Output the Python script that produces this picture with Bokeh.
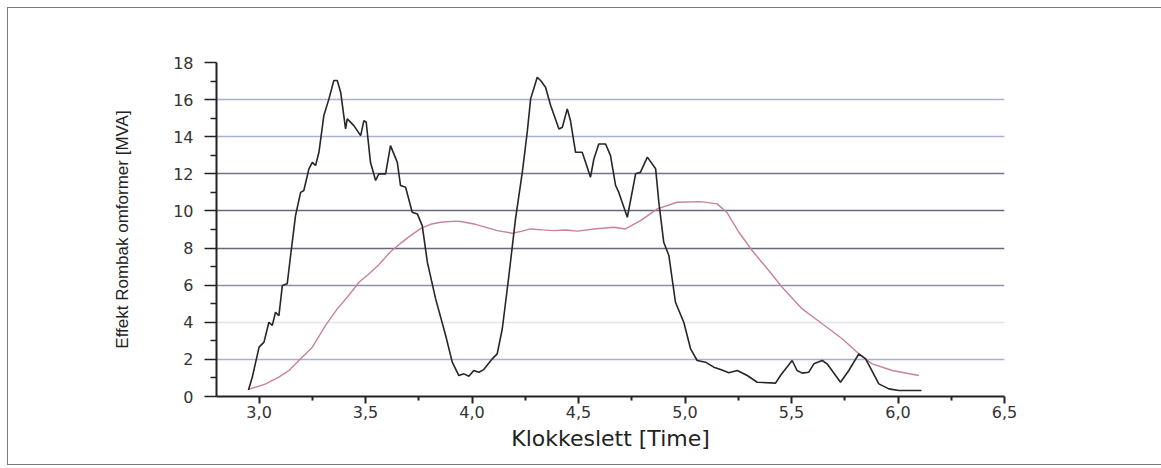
from bokeh.plotting import figure
from bokeh.models import Range1d, FixedTicker, Grid, ColumnDataSource, InlineStyleSheet
from bokeh.embed import file_html
from bokeh.resources import INLINE

# ---- data ----
black_x = [2.95, 2.968, 2.984, 3.0, 3.023, 3.046, 3.062, 3.077, 3.093, 3.109, 3.132, 3.148,
           3.171, 3.195, 3.21, 3.234, 3.25, 3.265, 3.281, 3.304, 3.328, 3.351, 3.367, 3.383,
           3.406, 3.414, 3.445, 3.477, 3.492, 3.503, 3.523, 3.547, 3.562, 3.594, 3.617, 3.649,
           3.664, 3.688, 3.719, 3.743, 3.766, 3.79, 3.829, 3.876, 3.907, 3.938, 3.962, 3.985,
           4.008, 4.032, 4.055, 4.095, 4.118, 4.142, 4.173, 4.204, 4.236, 4.259, 4.275, 4.306,
           4.322, 4.345, 4.369, 4.408, 4.424, 4.447, 4.462, 4.486, 4.517, 4.533, 4.556, 4.572,
           4.595, 4.627, 4.65, 4.674, 4.689, 4.729, 4.768, 4.791, 4.823, 4.862, 4.877, 4.9,
           4.924, 4.955, 4.994, 5.026, 5.057, 5.096, 5.135, 5.167, 5.206, 5.245, 5.292, 5.339,
           5.425, 5.448, 5.503, 5.526, 5.55, 5.581, 5.605, 5.644, 5.667, 5.73, 5.769, 5.816,
           5.848, 5.91, 5.957, 6.004, 6.11]
black_y = [0.35, 1.04, 1.85, 2.66, 2.93, 4.0, 3.83, 4.54, 4.36, 5.98, 6.07, 7.6,
           9.75, 11.0, 11.1, 12.27, 12.62, 12.45, 13.16, 15.14, 16.04, 17.03, 17.03, 16.4,
           14.42, 14.96, 14.6, 14.06, 14.87, 14.78, 12.62, 11.64, 12.0, 12.0, 13.52, 12.62,
           11.37, 11.28, 9.93, 9.84, 9.21, 7.24, 5.26, 3.29, 1.85, 1.13, 1.22, 1.09,
           1.4, 1.31, 1.45, 2.03, 2.3, 3.65, 6.52, 9.57, 12.09, 14.24, 16.04, 17.2,
           17.03, 16.67, 15.68, 14.42, 14.51, 15.5, 14.87, 13.16, 13.16, 12.62, 11.82, 12.8,
           13.61, 13.61, 12.98, 11.37, 11.0, 9.66, 12.0, 12.09, 12.9, 12.27, 10.47, 8.31,
           7.6, 5.08, 4.0, 2.57, 1.94, 1.85, 1.58, 1.45, 1.28, 1.4, 1.13, 0.77,
           0.72, 1.13, 1.94, 1.4, 1.26, 1.31, 1.76, 1.94, 1.76, 0.77, 1.4, 2.3,
           2.03, 0.68, 0.41, 0.32, 0.32]

red_x = [2.95, 3.031, 3.093, 3.14, 3.195, 3.25, 3.312, 3.367, 3.414, 3.469, 3.51, 3.562,
         3.617, 3.664, 3.703, 3.758, 3.805, 3.852, 3.922, 3.946, 4.016, 4.07, 4.118, 4.189,
         4.23, 4.275, 4.33, 4.384, 4.44, 4.494, 4.572, 4.666, 4.72, 4.791, 4.87, 4.963,
         5.073, 5.151, 5.198, 5.253, 5.315, 5.393, 5.456, 5.55, 5.644, 5.738, 5.816, 5.879,
         5.973, 6.098]
red_y = [0.38, 0.68, 1.04, 1.4, 2.03, 2.66, 3.83, 4.72, 5.35, 6.16, 6.55, 7.1,
         7.8, 8.25, 8.6, 9.05, 9.28, 9.39, 9.45, 9.43, 9.28, 9.1, 8.94, 8.8,
         8.9, 9.03, 8.98, 8.94, 8.97, 8.91, 9.03, 9.12, 9.03, 9.48, 10.11, 10.47,
         10.5, 10.38, 9.9, 8.85, 7.87, 6.79, 5.89, 4.72, 3.92, 3.11, 2.3, 1.76,
         1.4, 1.13]

x_ticks = [3.0, 3.5, 4.0, 4.5, 5.0, 5.5, 6.0, 6.5]
x_tick_labels = ["3,0", "3,5", "4,0", "4,5", "5,0", "5,5", "6,0", "6,5"]
x_minor = [3.25, 3.75, 4.25, 4.75, 5.25, 5.75, 6.25]
y_ticks = [0, 2, 4, 6, 8, 10, 12, 14, 16, 18]
y_tick_labels = ["0", "2", "4", "6", "8", "10", "12", "14", "16", "18"]
y_minor = [1, 3, 5, 7, 9, 11, 13, 15, 17]

x_label = "Klokkeslett [Time]"
y_label = "Effekt Rombak omformer [MVA]"

# gridline groups (level, colour)
grid_groups = [([16, 14], "#a9b1d2"), ([12], "#727489"), ([10, 8], "#66687c"),
               ([6], "#8f91a3"), ([4], "#e4e4ec"), ([2], "#a9b1d2")]

p = figure(width=1161, height=468, x_range=Range1d(2.8, 6.5), y_range=Range1d(0, 18),
           output_backend="svg", toolbar_location=None,
           min_border_left=216, min_border_right=157, min_border_top=62, min_border_bottom=72)
p.outline_line_color = None
p.xgrid.visible = False
p.ygrid.visible = False
p.background_fill_color = "white"
p.border_fill_color = "white"
# outer frame around the whole figure box (as in the scanned document)
frame_css = InlineStyleSheet(css="""
:host { position: relative; }
:host::after {
  content: "";
  position: absolute;
  left: 7px; top: 7px; right: -20px; bottom: 3px;
  border: 1.5px solid #7a7a7a;
  pointer-events: none;
  z-index: 100;
}
""")
p.stylesheets = [frame_css]

for levels, col in grid_groups:
    g = Grid(dimension=1, ticker=FixedTicker(ticks=levels), grid_line_color=col,
             grid_line_width=1.5, level="underlay")
    p.add_layout(g)

red_src = ColumnDataSource(dict(x=red_x, y=red_y))
blk_src = ColumnDataSource(dict(x=black_x, y=black_y))
p.line("x", "y", source=red_src, line_color="#c98298", line_width=1.4)
p.line("x", "y", source=blk_src, line_color="#262626", line_width=1.6)

# axes
ax = p.xaxis[0]
ax.ticker = FixedTicker(ticks=x_ticks, minor_ticks=x_minor)
ax.major_label_overrides = {t: l for t, l in zip(x_ticks, x_tick_labels)}
ax.axis_label = x_label
ax.axis_line_width = 2
ax.axis_line_color = "#222222"
ax.major_tick_line_color = "#222222"
ax.major_tick_line_width = 2
ax.major_tick_out = 7
ax.major_tick_in = 0
ax.minor_tick_out = 4
ax.minor_tick_in = 0
ax.minor_tick_line_width = 2
ax.minor_tick_line_color = "#222222"
ax.major_label_text_font = "DejaVu Sans"
ax.major_label_text_font_size = "16px"
ax.major_label_text_color = "#333333"
ax.major_label_standoff = 2
ax.axis_label_text_font = "DejaVu Sans"
ax.axis_label_text_font_size = "22px"
ax.axis_label_text_font_style = "normal"
ax.axis_label_text_color = "#222222"
ax.axis_label_standoff = 5

ay = p.yaxis[0]
ay.ticker = FixedTicker(ticks=y_ticks, minor_ticks=y_minor)
ay.major_label_overrides = {t: l for t, l in zip(y_ticks, y_tick_labels)}
ay.axis_label = y_label
ay.axis_line_width = 2
ay.axis_line_color = "#222222"
ay.major_tick_line_color = "#222222"
ay.major_tick_line_width = 1.5
ay.major_tick_out = 12
ay.major_tick_in = 0
ay.minor_tick_out = 6
ay.minor_tick_in = 0
ay.minor_tick_line_width = 1.5
ay.minor_tick_line_color = "#222222"
ay.major_label_text_font = "DejaVu Sans"
ay.major_label_text_font_size = "16px"
ay.major_label_text_color = "#333333"
ay.major_label_standoff = 11
ay.axis_label_text_font = "Liberation Sans"
ay.axis_label_text_font_size = "17px"
ay.axis_label_text_font_style = "normal"
ay.axis_label_text_color = "#222222"
ay.axis_label_standoff = 38

open("out.html", "w").write(file_html(p, INLINE))
